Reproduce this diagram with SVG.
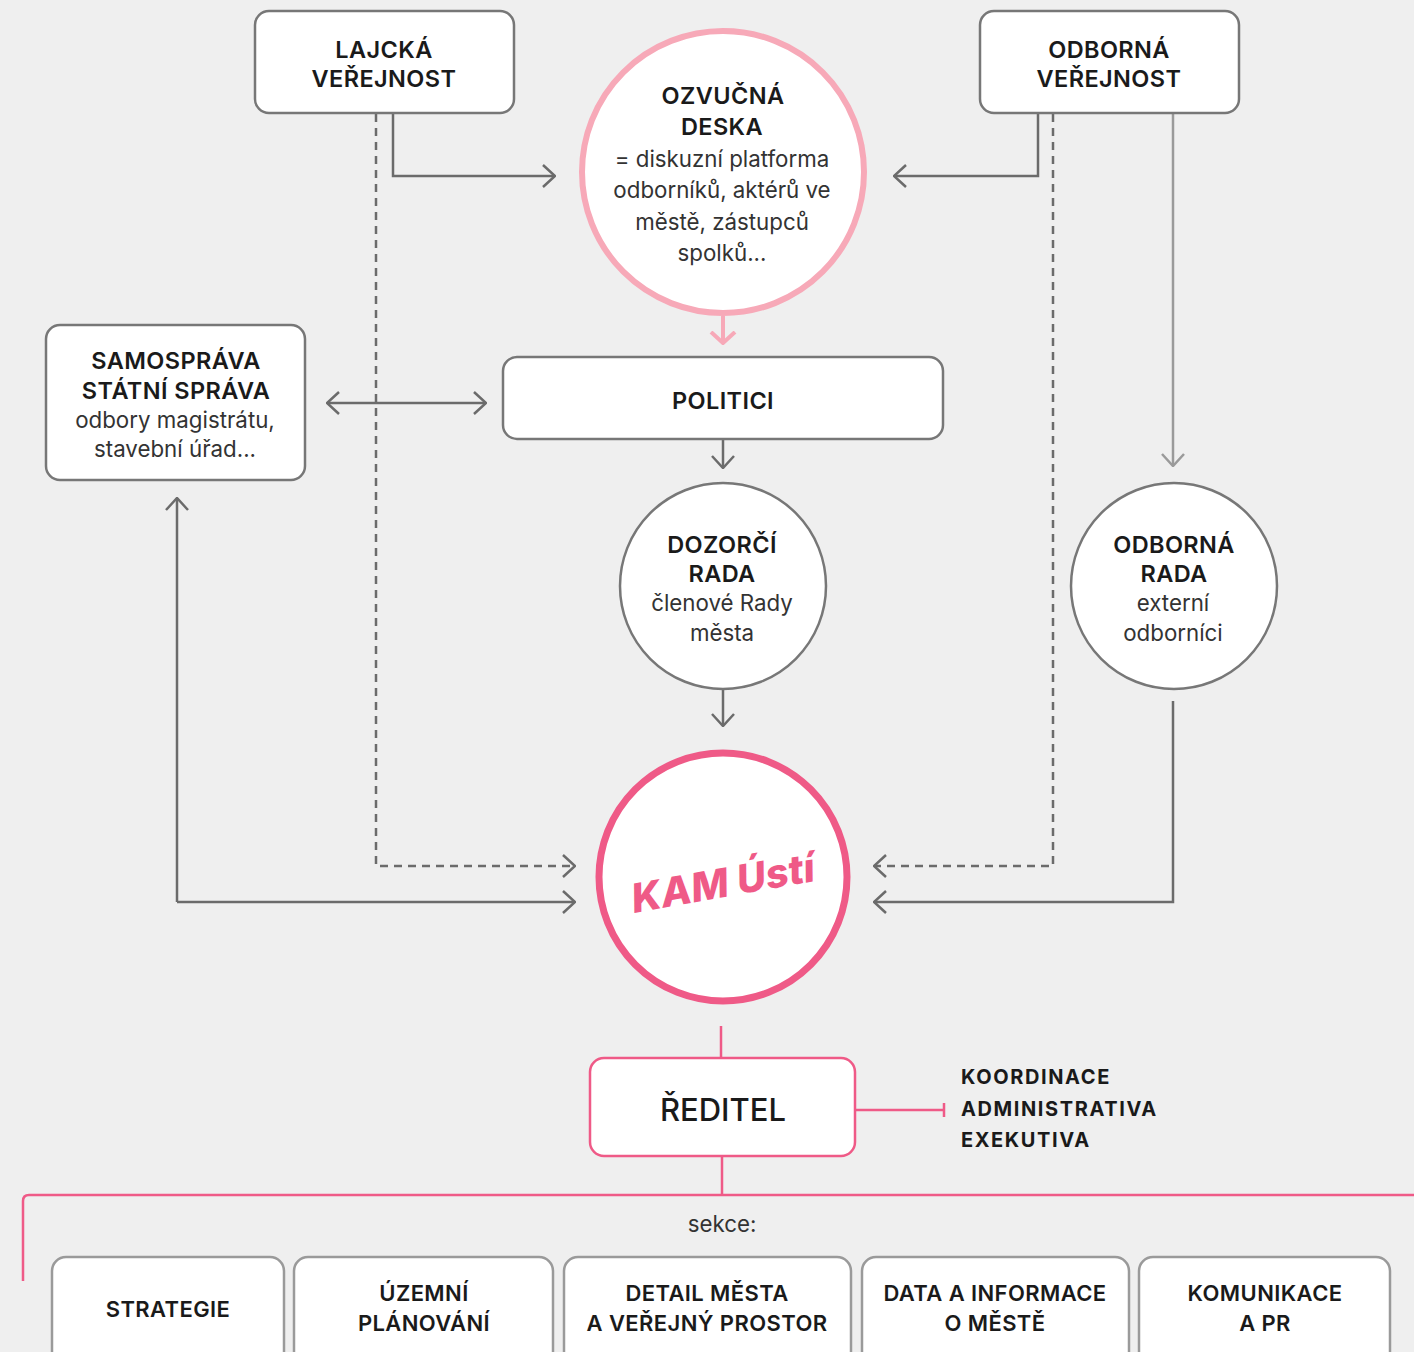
<svg xmlns="http://www.w3.org/2000/svg" width="1414" height="1352" viewBox="0 0 1414 1352">
<style>
.bg{fill:#efefef}
.box{fill:#fff;stroke:#777;stroke-width:2.5}
.box2{fill:#fff;stroke:#9a9a9a;stroke-width:2.5}
.pbox{fill:#fff;stroke:#ef5a87;stroke-width:2.5}
.h{font-family:Inter,"Noto Sans",sans-serif;font-weight:600;font-size:23.5px;fill:#1a1a1a;text-anchor:middle;letter-spacing:0.4px}
.s{font-family:Inter,"Noto Sans",sans-serif;font-weight:600;font-size:22px;fill:#1a1a1a;text-anchor:middle;letter-spacing:0.4px}
.b{font-family:Inter,"Noto Sans",sans-serif;font-weight:400;font-size:22.3px;fill:#333;text-anchor:middle}
.k{font-family:Inter,"Noto Sans",sans-serif;font-weight:700;font-size:20px;fill:#1a1a1a;letter-spacing:1.6px}
.c{fill:none;stroke:#6b6b6b;stroke-width:2.5}
.d{fill:none;stroke:#6b6b6b;stroke-width:2.5;stroke-dasharray:8 6}
.l{fill:none;stroke:#9a9a9a;stroke-width:2.5}
.p{fill:none;stroke:#ef5a87;stroke-width:2.5}
</style>
<defs>
<marker id="a" viewBox="0 0 14 24" refX="13" refY="12" markerWidth="14" markerHeight="24" markerUnits="userSpaceOnUse" orient="auto-start-reverse">
<path d="M1,1 L13,12 L1,23" fill="none" stroke="#6b6b6b" stroke-width="2.5"/>
</marker>
<marker id="al" viewBox="0 0 14 24" refX="13" refY="12" markerWidth="14" markerHeight="24" markerUnits="userSpaceOnUse" orient="auto">
<path d="M1,1 L13,12 L1,23" fill="none" stroke="#9a9a9a" stroke-width="2.5"/>
</marker>
<marker id="ap" viewBox="0 0 14 28" refX="12" refY="14" markerWidth="14" markerHeight="28" markerUnits="userSpaceOnUse" orient="auto">
<path d="M1,2 L12,14 L1,26" fill="none" stroke="#f7a9b8" stroke-width="4"/>
</marker>
</defs>
<rect class="bg" x="0" y="0" width="1414" height="1352"/>

<g id="connectors">
<path class="c" d="M393,114 V176 H555" marker-end="url(#a)"/>
<path class="d" d="M376,114 V866 H575" marker-end="url(#a)"/>
<path class="c" d="M1038,114 V176 H894" marker-end="url(#a)"/>
<path class="d" d="M1053,114 V866 H874" marker-end="url(#a)"/>
<path class="l" d="M1173,114 V466" marker-end="url(#al)"/>
<path d="M723,316 V343" fill="none" stroke="#f7a9b8" stroke-width="4" marker-end="url(#ap)"/>
<path class="c" d="M327,403 H486" marker-start="url(#a)" marker-end="url(#a)"/>
<path class="c" d="M723,440 V468" marker-end="url(#a)"/>
<path class="c" d="M723,689 V726" marker-end="url(#a)"/>
<path class="c" d="M1173,701 V902 H874" marker-end="url(#a)"/>
<path class="c" d="M177,902 V498" marker-end="url(#a)"/>
<path class="c" d="M177,902 H575" marker-end="url(#a)"/>
<path class="p" d="M721,1026 V1058"/>
<path class="p" d="M856,1110 H944 M944,1103 V1117"/>
<path class="p" d="M722,1157 V1195"/>
<path class="p" d="M23,1281 V1201 Q23,1195 29,1195 H1414"/>
</g>

<g id="lajcka">
<rect class="box" x="255" y="11" width="259" height="102" rx="14"/>
<text class="h" x="384" y="58">LAJCKÁ</text>
<text class="h" x="384" y="87">VEŘEJNOST</text>
</g>

<g id="odborna-verejnost">
<rect class="box" x="980" y="11" width="259" height="102" rx="14"/>
<text class="h" x="1109" y="58">ODBORNÁ</text>
<text class="h" x="1109" y="87">VEŘEJNOST</text>
</g>

<g id="ozvucna-deska">
<circle cx="723" cy="172" r="141" fill="#fff" stroke="#f7a9b8" stroke-width="6"/>
<text class="h" x="723" y="104">OZVUČNÁ</text>
<text class="h" x="722" y="135">DESKA</text>
<text class="b" x="722" y="167">= diskuzní platforma</text>
<text class="b" x="722" y="198">odborníků, aktérů ve</text>
<text class="b" x="722" y="230">městě, zástupců</text>
<text class="b" x="722" y="261">spolků...</text>
</g>

<g id="samosprava">
<rect class="box" x="46" y="325" width="259" height="155" rx="14"/>
<text class="h" x="176" y="369">SAMOSPRÁVA</text>
<text class="h" x="176" y="399">STÁTNÍ SPRÁVA</text>
<text class="b" x="175" y="428">odbory magistrátu,</text>
<text class="b" x="175" y="457">stavební úřad...</text>
</g>

<g id="politici">
<rect class="box" x="503" y="357" width="440" height="82" rx="14"/>
<text class="h" x="723" y="409">POLITICI</text>
</g>

<g id="dozorci-rada">
<circle cx="723" cy="586" r="103" fill="#fff" stroke="#777" stroke-width="2.5"/>
<text class="h" x="722" y="553">DOZORČÍ</text>
<text class="h" x="722" y="582">RADA</text>
<text class="b" x="722" y="611">členové Rady</text>
<text class="b" x="722" y="641">města</text>
</g>

<g id="odborna-rada">
<circle cx="1174" cy="586" r="103" fill="#fff" stroke="#777" stroke-width="2.5"/>
<text class="h" x="1174" y="553">ODBORNÁ</text>
<text class="h" x="1174" y="582">RADA</text>
<text class="b" x="1173" y="611">externí</text>
<text class="b" x="1173" y="641">odborníci</text>
</g>

<g id="kam-usti">
<circle cx="723" cy="877" r="124" fill="#fff" stroke="#ef5a87" stroke-width="7"/>
<text x="723" y="897" transform="rotate(-10 723 883)" font-family="Inter,'Noto Sans',sans-serif" font-weight="800" font-style="italic" font-size="40" fill="#ef5a87" text-anchor="middle">KAM Ústí</text>
</g>

<g id="reditel">
<rect class="pbox" x="590" y="1058" width="265" height="98" rx="14"/>
<text x="723" y="1121" font-family="Inter,'Noto Sans',sans-serif" font-weight="500" font-size="31" fill="#1a1a1a" text-anchor="middle">ŘEDITEL</text>
</g>

<g id="reditel-ukoly">
<text class="k" x="961" y="1084">KOORDINACE</text>
<text class="k" x="961" y="1116">ADMINISTRATIVA</text>
<text class="k" x="961" y="1147">EXEKUTIVA</text>
</g>

<g id="sekce-label">
<text class="b" x="722" y="1232" font-size="20">sekce:</text>
</g>

<g id="strategie">
<rect class="box2" x="52" y="1257" width="232" height="120" rx="14"/>
<text class="s" x="168" y="1317">STRATEGIE</text>
</g>
<g id="uzemni-planovani">
<rect class="box2" x="294" y="1257" width="259" height="120" rx="14"/>
<text class="s" x="424" y="1301">ÚZEMNÍ</text>
<text class="s" x="424" y="1331">PLÁNOVÁNÍ</text>
</g>
<g id="detail-mesta">
<rect class="box2" x="564" y="1257" width="287" height="120" rx="14"/>
<text class="s" x="707" y="1301">DETAIL MĚSTA</text>
<text class="s" x="707" y="1331">A VEŘEJNÝ PROSTOR</text>
</g>
<g id="data-informace">
<rect class="box2" x="862" y="1257" width="267" height="120" rx="14"/>
<text class="s" x="995" y="1301">DATA A INFORMACE</text>
<text class="s" x="995" y="1331">O MĚSTĚ</text>
</g>
<g id="komunikace">
<rect class="box2" x="1139" y="1257" width="251" height="120" rx="14"/>
<text class="s" x="1265" y="1301">KOMUNIKACE</text>
<text class="s" x="1265" y="1331">A PR</text>
</g>
</svg>
